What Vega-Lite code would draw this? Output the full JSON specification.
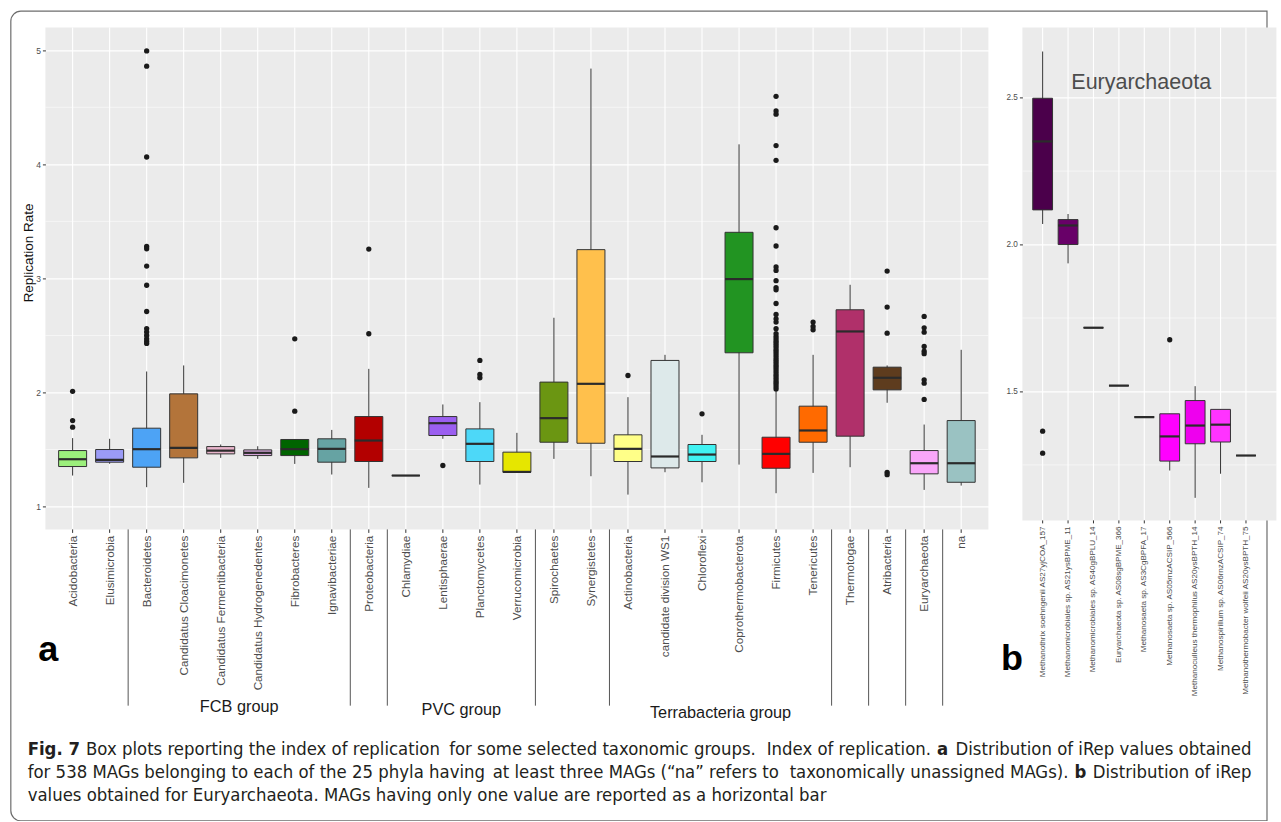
{
  "$schema": "https://vega.github.io/schema/vega-lite/v6.json",
  "background": "white",
  "padding": {"left": 9.4, "top": 10.4, "right": 0, "bottom": 0},
  "bounds": "flush",
  "spacing": 34,
  "resolve": {"scale": {"color": "independent"}},
  "datasets": {
    "a_box": [
      {"pos": 1, "name": "Acidobacteria", "lower": 1.272, "q1": 1.351, "median": 1.415, "q3": 1.491, "upper": 1.60},
      {"pos": 2, "name": "Elusimicrobia", "lower": 1.375, "q1": 1.389, "median": 1.41, "q3": 1.50, "upper": 1.594},
      {"pos": 3, "name": "Bacteroidetes", "lower": 1.17, "q1": 1.345, "median": 1.503, "q3": 1.687, "upper": 2.184},
      {"pos": 4, "name": "Candidatus Cloacimonetes", "lower": 1.208, "q1": 1.427, "median": 1.515, "q3": 1.988, "upper": 2.237},
      {"pos": 5, "name": "Candidatus Fermentibacteria", "lower": 1.427, "q1": 1.462, "median": 1.49, "q3": 1.526, "upper": 1.544},
      {"pos": 6, "name": "Candidatus Hydrogenedentes", "lower": 1.418, "q1": 1.447, "median": 1.471, "q3": 1.497, "upper": 1.529},
      {"pos": 7, "name": "Fibrobacteres", "lower": 1.374, "q1": 1.447, "median": 1.503, "q3": 1.588, "upper": 1.59},
      {"pos": 8, "name": "Ignavibacteriae", "lower": 1.281, "q1": 1.389, "median": 1.506, "q3": 1.594, "upper": 1.672},
      {"pos": 9, "name": "Proteobacteria", "lower": 1.164, "q1": 1.395, "median": 1.579, "q3": 1.789, "upper": 2.207},
      {"pos": 10, "name": "Chlamydiae", "lower": 1.272, "q1": 1.272, "median": 1.272, "q3": 1.272, "upper": 1.272},
      {"pos": 11, "name": "Lentisphaerae", "lower": 1.594, "q1": 1.623, "median": 1.731, "q3": 1.789, "upper": 1.895},
      {"pos": 12, "name": "Planctomycetes", "lower": 1.193, "q1": 1.395, "median": 1.55, "q3": 1.681, "upper": 1.915},
      {"pos": 13, "name": "Verrucomicrobia", "lower": 1.30, "q1": 1.301, "median": 1.304, "q3": 1.477, "upper": 1.646},
      {"pos": 14, "name": "Spirochaetes", "lower": 1.418, "q1": 1.564, "median": 1.775, "q3": 2.091, "upper": 2.655},
      {"pos": 15, "name": "Synergistetes", "lower": 1.266, "q1": 1.555, "median": 2.076, "q3": 3.252, "upper": 4.839},
      {"pos": 16, "name": "Actinobacteria", "lower": 1.105, "q1": 1.395, "median": 1.506, "q3": 1.629, "upper": 1.959},
      {"pos": 17, "name": "candidate division WS1", "lower": 1.301, "q1": 1.339, "median": 1.439, "q3": 2.281, "upper": 2.33},
      {"pos": 18, "name": "Chloroflexi", "lower": 1.213, "q1": 1.395, "median": 1.456, "q3": 1.544, "upper": 1.629},
      {"pos": 19, "name": "Coprothermobacterota", "lower": 1.368, "q1": 2.348, "median": 2.994, "q3": 3.404, "upper": 4.175},
      {"pos": 20, "name": "Firmicutes", "lower": 1.117, "q1": 1.336, "median": 1.462, "q3": 1.608, "upper": 2.01},
      {"pos": 21, "name": "Tenericutes", "lower": 1.295, "q1": 1.564, "median": 1.667, "q3": 1.88, "upper": 2.33},
      {"pos": 22, "name": "Thermotogae", "lower": 1.345, "q1": 1.617, "median": 2.535, "q3": 2.725, "upper": 2.944},
      {"pos": 23, "name": "Atribacteria", "lower": 1.91, "q1": 2.023, "median": 2.129, "q3": 2.222, "upper": 2.237},
      {"pos": 24, "name": "Euryarchaeota", "lower": 1.146, "q1": 1.287, "median": 1.38, "q3": 1.491, "upper": 1.719},
      {"pos": 25, "name": "na", "lower": 1.184, "q1": 1.213, "median": 1.38, "q3": 1.754, "upper": 2.374}
    ],
    "a_out": [
      {"pos": 1, "v": 2.01}, {"pos": 1, "v": 1.754}, {"pos": 1, "v": 1.696},
      {"pos": 3, "v": 4.994}, {"pos": 3, "v": 4.86}, {"pos": 3, "v": 4.064}, {"pos": 3, "v": 3.28}, {"pos": 3, "v": 3.26}, {"pos": 3, "v": 3.108}, {"pos": 3, "v": 2.94}, {"pos": 3, "v": 2.71}, {"pos": 3, "v": 2.56}, {"pos": 3, "v": 2.53}, {"pos": 3, "v": 2.50}, {"pos": 3, "v": 2.47}, {"pos": 3, "v": 2.45}, {"pos": 3, "v": 2.43},
      {"pos": 7, "v": 2.47}, {"pos": 7, "v": 1.836},
      {"pos": 9, "v": 3.257}, {"pos": 9, "v": 2.515},
      {"pos": 11, "v": 1.36},
      {"pos": 12, "v": 2.281}, {"pos": 12, "v": 2.158}, {"pos": 12, "v": 2.129},
      {"pos": 16, "v": 2.149},
      {"pos": 18, "v": 1.813},
      {"pos": 20, "v": 4.596}, {"pos": 20, "v": 4.468}, {"pos": 20, "v": 4.439}, {"pos": 20, "v": 4.164}, {"pos": 20, "v": 4.035}, {"pos": 20, "v": 3.444}, {"pos": 20, "v": 3.284}, {"pos": 20, "v": 3.10}, {"pos": 20, "v": 3.07}, {"pos": 20, "v": 2.98}, {"pos": 20, "v": 2.92}, {"pos": 20, "v": 2.90}, {"pos": 20, "v": 2.78}, {"pos": 20, "v": 2.684}, {"pos": 20, "v": 2.646}, {"pos": 20, "v": 2.617}, {"pos": 20, "v": 2.559}, {"pos": 20, "v": 2.515}, {"pos": 20, "v": 2.49}, {"pos": 20, "v": 2.47}, {"pos": 20, "v": 2.45}, {"pos": 20, "v": 2.43}, {"pos": 20, "v": 2.41}, {"pos": 20, "v": 2.39}, {"pos": 20, "v": 2.37}, {"pos": 20, "v": 2.35}, {"pos": 20, "v": 2.33}, {"pos": 20, "v": 2.31}, {"pos": 20, "v": 2.29}, {"pos": 20, "v": 2.27}, {"pos": 20, "v": 2.25}, {"pos": 20, "v": 2.23}, {"pos": 20, "v": 2.21}, {"pos": 20, "v": 2.19}, {"pos": 20, "v": 2.17}, {"pos": 20, "v": 2.15}, {"pos": 20, "v": 2.13}, {"pos": 20, "v": 2.11}, {"pos": 20, "v": 2.09}, {"pos": 20, "v": 2.07}, {"pos": 20, "v": 2.05}, {"pos": 20, "v": 2.03},
      {"pos": 21, "v": 2.617}, {"pos": 21, "v": 2.579}, {"pos": 21, "v": 2.55},
      {"pos": 23, "v": 3.064}, {"pos": 23, "v": 2.749}, {"pos": 23, "v": 2.52}, {"pos": 23, "v": 1.30}, {"pos": 23, "v": 1.28},
      {"pos": 24, "v": 2.667}, {"pos": 24, "v": 2.567}, {"pos": 24, "v": 2.529}, {"pos": 24, "v": 2.404}, {"pos": 24, "v": 2.362}, {"pos": 24, "v": 2.34}, {"pos": 24, "v": 2.111}, {"pos": 24, "v": 2.082}, {"pos": 24, "v": 1.939}
    ],
    "b_box": [
      {"pos": 1, "name": "Methanothrix soehngenii AS27yjCOA_157", "lower": 2.070, "q1": 2.118, "median": 2.351, "q3": 2.498, "upper": 2.657},
      {"pos": 2, "name": "Methanomicrobiales sp. AS21ysBPME_11", "lower": 1.936, "q1": 2.0, "median": 2.065, "q3": 2.085, "upper": 2.104},
      {"pos": 3, "name": "Methanomicrobiales sp. AS40gBPLU_14", "lower": 1.717, "q1": 1.717, "median": 1.717, "q3": 1.717, "upper": 1.717},
      {"pos": 4, "name": "Euryarchaeota sp. AS08sgBPME_366", "lower": 1.52, "q1": 1.52, "median": 1.52, "q3": 1.52, "upper": 1.52},
      {"pos": 5, "name": "Methanosaeta sp. AS3CgBPFA_17", "lower": 1.413, "q1": 1.413, "median": 1.413, "q3": 1.413, "upper": 1.413},
      {"pos": 6, "name": "Methanosaeta sp. AS05rnzACSIP_566", "lower": 1.231, "q1": 1.263, "median": 1.347, "q3": 1.424, "upper": 1.424},
      {"pos": 7, "name": "Methanoculleus thermophilus AS20ysBPTH_14", "lower": 1.138, "q1": 1.322, "median": 1.384, "q3": 1.469, "upper": 1.518},
      {"pos": 8, "name": "Methanospirillum sp. AS06rnzACSIP_74", "lower": 1.22, "q1": 1.328, "median": 1.387, "q3": 1.439, "upper": 1.439},
      {"pos": 9, "name": "Methanothermobacter wolfeii AS20ysBPTH_75", "lower": 1.282, "q1": 1.282, "median": 1.282, "q3": 1.282, "upper": 1.282}
    ],
    "b_out": [
      {"pos": 1, "v": 1.365}, {"pos": 1, "v": 1.29}, {"pos": 6, "v": 1.676}
    ],
    "cap_left": [
      {"cx": 1.3621, "cy": -1.1809, "t": "Box plots reporting the index of replication"},
      {"cx": 11.1697, "cy": -1.1809, "t": "for some selected taxonomic groups."},
      {"cx": -0.2146, "cy": -1.3825, "t": "for 538 MAGs belonging to each of the 25 phyla having"},
      {"cx": 12.3455, "cy": -1.3825, "t": "at least three MAGs (“na” refers to"},
      {"cx": -0.2146, "cy": -1.5841, "t": "values obtained for Euryarchaeota. MAGs having only one value are reported as a horizontal bar"}
    ],
    "cap_right": [
      {"cx": 24.1841, "cy": -1.1809, "t": "Index of replication."},
      {"cx": 32.8425, "cy": -1.1809, "t": "Distribution of iRep values obtained"},
      {"cx": 27.8985, "cy": -1.3825, "t": "taxonomically unassigned MAGs)."},
      {"cx": 32.8425, "cy": -1.3825, "t": "Distribution of iRep"}
    ],
    "cap_bold": [
      {"cx": -0.2146, "cy": -1.1809, "t": "Fig. 7"},
      {"cx": 24.3444, "cy": -1.1809, "t": "a"},
      {"cx": 28.0588, "cy": -1.3825, "t": "b"}
    ]
  },
  "hconcat": [
    {
      "width": 943,
      "height": 502,
      "view": {"fill": "#ebebeb", "stroke": null},
      "layer": [
        {
          "data": {"name": "a_box"},
          "mark": {"type": "rule", "color": "#ffffff", "strokeWidth": 1.1},
          "encoding": {
            "x": {"field": "pos", "type": "quantitative", "scale": {"domain": [0.4, 25.6], "zero": false, "nice": false}, "axis": null}
          }
        },
        {
          "data": {"values": [{"g": 1.5}, {"g": 2.5}, {"g": 3.5}, {"g": 4.5}]},
          "mark": {"type": "rule", "color": "#ffffff", "strokeWidth": 0.55},
          "encoding": {
            "y": {"field": "g", "type": "quantitative", "scale": {"domain": [0.8, 5.2], "zero": false, "nice": false},
              "axis": {"values": [1, 2, 3, 4, 5], "format": "d", "title": "Replication Rate", "domain": false, "labelFontSize": 8.5, "labelColor": "#4d4d4d", "labelPadding": 2,
                "tickSize": 3, "tickColor": "#333333", "grid": true, "gridColor": "#ffffff", "gridWidth": 1.1,
                "titleFontSize": 13.5, "titleFontWeight": "normal", "titleColor": "#111111", "titleAngle": 270, "titleX": -17, "titleY": 225, "titleAlign": "center", "titleBaseline": "middle"}}
          }
        },
        {
          "data": {"name": "a_box"},
          "mark": {"type": "rule", "color": "#333333", "strokeWidth": 1},
          "encoding": {
            "x": {"field": "pos", "type": "quantitative", "axis": null},
            "y": {"datum": 0.8, "type": "quantitative"},
            "y2": {"datum": 0.7693}
          }
        },
        {
          "data": {"name": "a_box"},
          "mark": {"type": "text", "angle": 270, "align": "right", "baseline": "middle", "fontSize": 11.7, "color": "#4d4d4d"},
          "encoding": {
            "x": {"field": "pos", "type": "quantitative", "axis": null},
            "y": {"datum": 0.7448, "type": "quantitative"},
            "text": {"field": "name"}
          }
        },
        {
          "data": {"name": "a_box"},
          "mark": {"type": "rule", "color": "#333333", "strokeWidth": 1},
          "encoding": {
            "x": {"field": "pos", "type": "quantitative", "axis": null},
            "y": {"field": "lower", "type": "quantitative"},
            "y2": {"field": "upper"}
          }
        },
        {
          "data": {"name": "a_box"},
          "mark": {"type": "bar", "width": 28, "stroke": "#333333", "strokeWidth": 1},
          "encoding": {
            "x": {"field": "pos", "type": "quantitative", "axis": null},
            "y": {"field": "q1", "type": "quantitative"},
            "y2": {"field": "q3"},
            "color": {"field": "name", "type": "nominal", "legend": null,
              "scale": {
                "domain": ["Acidobacteria","Elusimicrobia","Bacteroidetes","Candidatus Cloacimonetes","Candidatus Fermentibacteria","Candidatus Hydrogenedentes","Fibrobacteres","Ignavibacteriae","Proteobacteria","Chlamydiae","Lentisphaerae","Planctomycetes","Verrucomicrobia","Spirochaetes","Synergistetes","Actinobacteria","candidate division WS1","Chloroflexi","Coprothermobacterota","Firmicutes","Tenericutes","Thermotogae","Atribacteria","Euryarchaeota","na"],
                "range": ["#9cf07c","#9b9bf7","#4da3f5","#b3743a","#e8b4cb","#d4a4d8","#006400","#66a3a3","#b30000","#333333","#9b5ff0","#4dd8f8","#e6e600","#6b9612","#ffc04c","#ffff88","#dde9ea","#40f2f2","#229422","#ff0000","#ff6a00","#b0306a","#5e3c1e","#f9a6f9","#9ac2c2"]}}
          }
        },
        {
          "data": {"name": "a_box"},
          "mark": {"type": "tick", "orient": "horizontal", "size": 28, "thickness": 2.2, "color": "#2b2b2b", "opacity": 1},
          "encoding": {
            "x": {"field": "pos", "type": "quantitative", "axis": null},
            "y": {"field": "median", "type": "quantitative"}
          }
        },
        {
          "data": {"name": "a_out"},
          "mark": {"type": "circle", "size": 28, "color": "#1a1a1a", "opacity": 1},
          "encoding": {
            "x": {"field": "pos", "type": "quantitative", "axis": null},
            "y": {"field": "v", "type": "quantitative"}
          }
        },
        {
          "data": {"values": [{"b": 2.5}, {"b": 8.5}, {"b": 9.5}, {"b": 13.5}, {"b": 15.5}, {"b": 21.5}, {"b": 22.5}, {"b": 23.5}, {"b": 24.5}]},
          "mark": {"type": "rule", "color": "#555555", "strokeWidth": 1},
          "encoding": {
            "x": {"field": "b", "type": "quantitative", "axis": null},
            "y": {"datum": 0.8, "type": "quantitative"},
            "y2": {"datum": -0.745}
          }
        },
        {
          "data": {"values": [{"gx": 5.5, "gy": -0.80, "label": "FCB group"}, {"gx": 11.5, "gy": -0.83, "label": "PVC group"}, {"gx": 18.5, "gy": -0.855, "label": "Terrabacteria group"}]},
          "mark": {"type": "text", "fontSize": 16.3, "color": "#1a1a1a", "align": "center", "baseline": "alphabetic"},
          "encoding": {
            "x": {"field": "gx", "type": "quantitative", "axis": null},
            "y": {"field": "gy", "type": "quantitative"},
            "text": {"field": "label"}
          }
        },
        {
          "data": {"values": [{"px": 0.341, "py": -0.357, "label": "a"}]},
          "mark": {"type": "text", "fontSize": 36, "fontWeight": "bold", "color": "#000000", "align": "center", "baseline": "alphabetic"},
          "encoding": {
            "x": {"field": "px", "type": "quantitative", "axis": null},
            "y": {"field": "py", "type": "quantitative"},
            "text": {"field": "label"}
          }
        },
        {
          "data": {"name": "cap_left"},
          "mark": {"type": "text", "font": "DejaVu Sans Condensed", "fontSize": 18.4, "color": "#231f20", "align": "left", "baseline": "alphabetic"},
          "encoding": {
            "x": {"field": "cx", "type": "quantitative", "axis": null},
            "y": {"field": "cy", "type": "quantitative"},
            "text": {"field": "t"}
          }
        },
        {
          "data": {"name": "cap_right"},
          "mark": {"type": "text", "font": "DejaVu Sans Condensed", "fontSize": 18.4, "color": "#231f20", "align": "right", "baseline": "alphabetic"},
          "encoding": {
            "x": {"field": "cx", "type": "quantitative", "axis": null},
            "y": {"field": "cy", "type": "quantitative"},
            "text": {"field": "t"}
          }
        },
        {
          "data": {"name": "cap_bold"},
          "mark": {"type": "text", "font": "DejaVu Sans Condensed", "fontSize": 18.4, "fontWeight": "bold", "color": "#231f20", "align": "left", "baseline": "alphabetic"},
          "encoding": {
            "x": {"field": "cx", "type": "quantitative", "axis": null},
            "y": {"field": "cy", "type": "quantitative"},
            "text": {"field": "t"}
          }
        },
        {
          "data": {"values": [{"x1": -0.669, "x2": 33.26, "y1": 5.342, "y2": -1.754}]},
          "mark": {"type": "rect", "filled": false, "color": "#6d6d6d", "strokeWidth": 1.2, "cornerRadiusTopLeft": 10, "cornerRadiusBottomLeft": 10},
          "encoding": {
            "x": {"field": "x1", "type": "quantitative", "axis": null},
            "x2": {"field": "x2"},
            "y": {"field": "y1", "type": "quantitative"},
            "y2": {"field": "y2"}
          }
        }
      ]
    },
    {
      "width": 254,
      "height": 493,
      "view": {"fill": "#ebebeb", "stroke": null},
      "layer": [
        {
          "data": {"name": "b_box"},
          "mark": {"type": "rule", "color": "#ffffff", "strokeWidth": 1.1},
          "encoding": {
            "x": {"field": "pos", "type": "quantitative", "scale": {"domain": [0.4, 10.0], "zero": false, "nice": false}, "axis": null}
          }
        },
        {
          "data": {"values": [{"g": 1.25}, {"g": 1.75}, {"g": 2.25}]},
          "mark": {"type": "rule", "color": "#ffffff", "strokeWidth": 0.55},
          "encoding": {
            "y": {"field": "g", "type": "quantitative", "scale": {"domain": [1.0612, 2.7391], "zero": false, "nice": false},
              "axis": {"values": [1.5, 2.0, 2.5], "format": ".1f", "title": null, "domain": false, "labelFontSize": 8.2, "labelColor": "#4d4d4d", "labelPadding": 2,
                "tickSize": 3, "tickColor": "#333333", "grid": true, "gridColor": "#ffffff", "gridWidth": 1.1}}
          }
        },
        {
          "data": {"name": "b_box"},
          "mark": {"type": "rule", "color": "#333333", "strokeWidth": 1},
          "encoding": {
            "x": {"field": "pos", "type": "quantitative", "axis": null},
            "y": {"datum": 1.0612, "type": "quantitative"},
            "y2": {"datum": 1.051}
          }
        },
        {
          "data": {"name": "b_box"},
          "mark": {"type": "text", "angle": 270, "align": "right", "baseline": "middle", "fontSize": 8.1, "color": "#4d4d4d"},
          "encoding": {
            "x": {"field": "pos", "type": "quantitative", "axis": null},
            "y": {"datum": 1.0407, "type": "quantitative"},
            "text": {"field": "name"}
          }
        },
        {
          "data": {"name": "b_box"},
          "mark": {"type": "rule", "color": "#333333", "strokeWidth": 1},
          "encoding": {
            "x": {"field": "pos", "type": "quantitative", "axis": null},
            "y": {"field": "lower", "type": "quantitative"},
            "y2": {"field": "upper"}
          }
        },
        {
          "data": {"name": "b_box"},
          "mark": {"type": "bar", "width": 19.8, "stroke": "#333333", "strokeWidth": 1},
          "encoding": {
            "x": {"field": "pos", "type": "quantitative", "axis": null},
            "y": {"field": "q1", "type": "quantitative"},
            "y2": {"field": "q3"},
            "color": {"field": "name", "type": "nominal", "legend": null,
              "scale": {
                "domain": ["Methanothrix soehngenii AS27yjCOA_157","Methanomicrobiales sp. AS21ysBPME_11","Methanomicrobiales sp. AS40gBPLU_14","Euryarchaeota sp. AS08sgBPME_366","Methanosaeta sp. AS3CgBPFA_17","Methanosaeta sp. AS05rnzACSIP_566","Methanoculleus thermophilus AS20ysBPTH_14","Methanospirillum sp. AS06rnzACSIP_74","Methanothermobacter wolfeii AS20ysBPTH_75"],
                "range": ["#4b004b","#680068","#333333","#333333","#333333","#ff00ff","#ee00ee","#ff33ff","#333333"]}}
          }
        },
        {
          "data": {"name": "b_box"},
          "mark": {"type": "tick", "orient": "horizontal", "size": 19.8, "thickness": 2.2, "color": "#2b2b2b", "opacity": 1},
          "encoding": {
            "x": {"field": "pos", "type": "quantitative", "axis": null},
            "y": {"field": "median", "type": "quantitative"}
          }
        },
        {
          "data": {"name": "b_out"},
          "mark": {"type": "circle", "size": 28, "color": "#1a1a1a", "opacity": 1},
          "encoding": {
            "x": {"field": "pos", "type": "quantitative", "axis": null},
            "y": {"field": "v", "type": "quantitative"}
          }
        },
        {
          "data": {"values": [{"px": 4.878, "py": 2.5305, "label": "Euryarchaeota"}]},
          "mark": {"type": "text", "fontSize": 21.5, "color": "#4d4d4d", "align": "center", "baseline": "alphabetic"},
          "encoding": {
            "x": {"field": "px", "type": "quantitative", "axis": null},
            "y": {"field": "py", "type": "quantitative"},
            "text": {"field": "label"}
          }
        },
        {
          "data": {"values": [{"px": -0.205, "py": 0.5505, "label": "b"}]},
          "mark": {"type": "text", "fontSize": 36, "fontWeight": "bold", "color": "#000000", "align": "center", "baseline": "alphabetic"},
          "encoding": {
            "x": {"field": "px", "type": "quantitative", "axis": null},
            "y": {"field": "py", "type": "quantitative"},
            "text": {"field": "label"}
          }
        }
      ]
    }
  ],
  "config": {
    "font": "Liberation Sans",
    "view": {"stroke": null},
    "axis": {"domain": false, "labelOverlap": false}
  }
}
